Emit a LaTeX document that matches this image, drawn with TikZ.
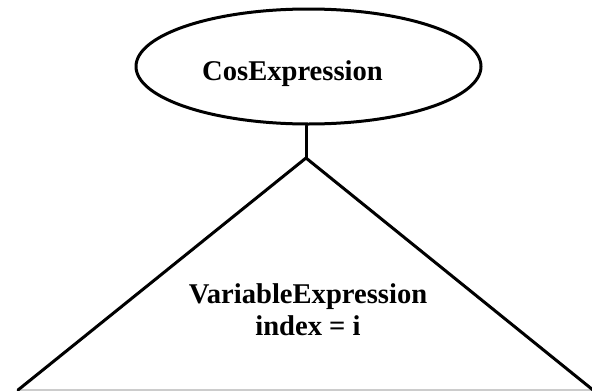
\documentclass[tikz,border=0pt]{standalone}
\usepackage{fontspec}
\setmainfont{Liberation Serif}
\usetikzlibrary{shapes.geometric,positioning,calc}

\begin{document}
\begin{tikzpicture}[x=1pt, y=-1pt,
            every node/.style={inner sep=0pt, font=\fontsize{28.6}{32}\selectfont\bfseries},
            treeline/.style={draw, line width=3pt, line cap=round, line join=round}]
        \useasboundingbox (0,0) rectangle (592,391);
        \node[ellipse, treeline, minimum width=345pt, minimum height=115pt] (nodeCos) at (308.5,66.5) {};
        \node[anchor=base] (nodeCosText) at ([xshift=-16pt, yshift=-13.5pt]nodeCos.center) {CosExpression};

        % triangle below the ellipse
        \coordinate (apex) at (306,158);
        \coordinate (baseL) at (18,390);
        \coordinate (baseR) at (593,390);
        \draw[line width=2pt, black!20] (baseL) -- (baseR);
        \draw[treeline] (baseL) -- (apex) -- (baseR);
        \draw[treeline] (apex) -- (apex |- nodeCos.south);

        \node[align=center, anchor=base] (nodeVar) at (308,335) {VariableExpression\\index = i};
\end{tikzpicture}
\end{document}
